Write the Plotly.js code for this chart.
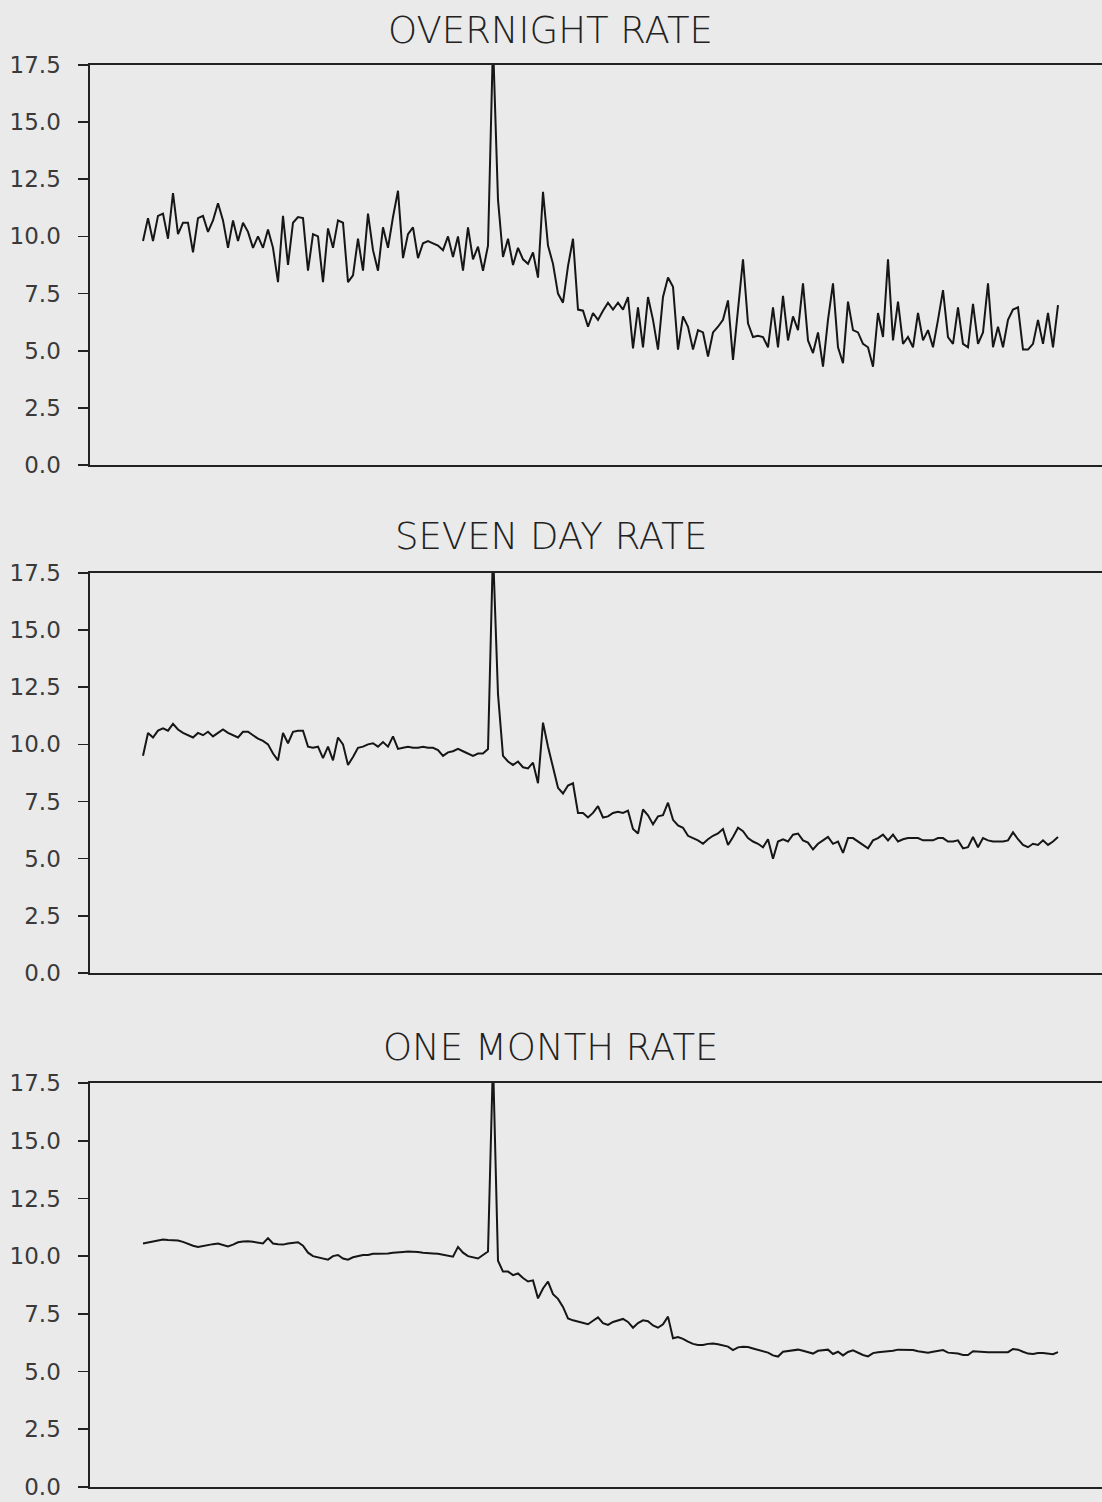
<!DOCTYPE html>
<html><head><meta charset="utf-8">
<script src="https://cdn.plot.ly/plotly-3.0.1.min.js"></script>
<style>html,body{margin:0;padding:0;background:#eaeaea;} #chart{width:1102px;height:1502px;}</style>
</head><body><div id="chart"></div>
<script>
const panelTitles = ['OVERNIGHT RATE', 'SEVEN DAY RATE', 'ONE MONTH RATE'];
const yTickValues = [0, 2.5, 5, 7.5, 10, 12.5, 15, 17.5];
const yTickLabels = ['0.0', '2.5', '5.0', '7.5', '10.0', '12.5', '15.0', '17.5'];

const overnight = [
  9.8, 10.8, 9.8, 10.9, 11.0, 9.9, 11.9, 10.1, 10.6, 10.6,
  9.3, 10.8, 10.9, 10.2, 10.7, 11.45, 10.7, 9.5, 10.7, 9.8,
  10.6, 10.2, 9.5, 10.0, 9.5, 10.3, 9.5, 8.0, 10.9, 8.75,
  10.6, 10.85, 10.8, 8.5, 10.1, 10.0, 8.0, 10.35, 9.5, 10.7,
  10.6, 8.0, 8.3, 9.9, 8.5, 11.0, 9.4, 8.5, 10.4, 9.5,
  10.85, 12.0, 9.05, 10.1, 10.4, 9.05, 9.7, 9.8, 9.7, 9.6,
  9.4, 10.0, 9.1, 10.0, 8.5, 10.4, 9.0, 9.55, 8.5, 9.6,
  18.5, 11.6, 9.1, 9.9, 8.75, 9.5, 9.0, 8.8, 9.3, 8.2,
  11.95, 9.6, 8.8, 7.5, 7.1, 8.7, 9.9, 6.8, 6.75, 6.05,
  6.65, 6.35, 6.75, 7.1, 6.8, 7.1, 6.8, 7.35, 5.1, 6.9,
  5.15, 7.35, 6.35, 5.05, 7.35, 8.2, 7.8, 5.05, 6.5, 6.05,
  5.05, 5.9, 5.8, 4.75, 5.8, 6.05, 6.35, 7.2, 4.6, 6.65,
  9.0, 6.2, 5.6, 5.65, 5.6, 5.15, 6.9, 5.15, 7.4, 5.45,
  6.5, 5.9, 7.95, 5.45, 4.9, 5.8, 4.3, 6.35, 7.95, 5.15,
  4.45, 7.15, 5.9, 5.8, 5.3, 5.15, 4.3, 6.65, 5.6, 9.0,
  5.45, 7.15, 5.3, 5.6, 5.15, 6.65, 5.45, 5.9, 5.15, 6.35,
  7.65, 5.6, 5.3, 6.9, 5.3, 5.15, 7.05, 5.3, 5.8, 7.95,
  5.15, 6.05, 5.15, 6.35, 6.8, 6.9, 5.05, 5.05, 5.3, 6.35,
  5.3, 6.65, 5.15, 7.0
];

const sevenDay = [
  9.5, 10.5, 10.3, 10.6, 10.7, 10.6, 10.9, 10.65, 10.5, 10.4,
  10.3, 10.5, 10.4, 10.55, 10.35, 10.5, 10.65, 10.5, 10.4, 10.3,
  10.55, 10.55, 10.4, 10.25, 10.15, 10.0, 9.6, 9.3, 10.5, 10.05,
  10.55, 10.6, 10.6, 9.9, 9.85, 9.9, 9.4, 9.9, 9.3, 10.3,
  10.0, 9.1, 9.45, 9.85, 9.9, 10.0, 10.05, 9.9, 10.1, 9.9,
  10.35, 9.8, 9.85, 9.9, 9.85, 9.85, 9.9, 9.85, 9.85, 9.75,
  9.5, 9.65, 9.7, 9.8, 9.7, 9.6, 9.5, 9.6, 9.6, 9.8,
  18.5, 12.2, 9.5, 9.25, 9.1, 9.25, 9.0, 8.95, 9.2, 8.3,
  10.95, 9.9, 9.0, 8.1, 7.85, 8.2, 8.3, 7.0, 7.0, 6.8,
  7.0, 7.3, 6.8, 6.85, 7.0, 7.05, 7.0, 7.1, 6.3, 6.1,
  7.15, 6.9, 6.5, 6.85, 6.9, 7.45, 6.7, 6.45, 6.35, 6.0,
  5.9, 5.8, 5.65, 5.85, 6.0, 6.1, 6.3, 5.6, 5.95, 6.35,
  6.2, 5.9, 5.75, 5.65, 5.5, 5.85, 5.0, 5.75, 5.85, 5.75,
  6.05, 6.1, 5.8, 5.7, 5.4, 5.65, 5.8, 5.95, 5.65, 5.75,
  5.25, 5.9, 5.9, 5.75, 5.6, 5.45, 5.8, 5.9, 6.05, 5.8,
  6.05, 5.75, 5.85, 5.9, 5.9, 5.9, 5.8, 5.8, 5.8, 5.9,
  5.9, 5.75, 5.75, 5.8, 5.45, 5.5, 5.95, 5.5, 5.9, 5.8,
  5.75, 5.75, 5.75, 5.8, 6.15, 5.85, 5.6, 5.5, 5.65, 5.6,
  5.8, 5.6, 5.75, 5.95
];

const oneMonth = [
  10.55, 10.6, 10.65, 10.7, 10.72, 10.7, 10.7, 10.68, 10.62, 10.52,
  10.45, 10.4, 10.45, 10.48, 10.52, 10.55, 10.48, 10.42, 10.5, 10.6,
  10.63, 10.65, 10.62, 10.6, 10.55, 10.78, 10.55, 10.52, 10.5, 10.55,
  10.57, 10.6, 10.45, 10.15, 10.0, 9.95, 9.9, 9.85, 10.0, 10.05,
  9.9, 9.85, 9.95, 10.0, 10.05, 10.05, 10.1, 10.1, 10.1, 10.12,
  10.15, 10.15, 10.18, 10.2, 10.2, 10.18, 10.15, 10.15, 10.12, 10.1,
  10.05, 10.0, 9.98, 10.4, 10.15, 10.0, 9.95, 9.9, 10.05, 10.2,
  18.5, 9.8, 9.33, 9.33, 9.18, 9.25, 9.05, 8.9, 8.95, 8.17,
  8.6, 8.9, 8.35, 8.15, 7.8, 7.3, 7.22, 7.17, 7.12, 7.05,
  7.2, 7.35, 7.1, 7.02, 7.15, 7.2, 7.28, 7.15, 6.9, 7.1,
  7.22, 7.18, 7.0, 6.9, 7.05, 7.38, 6.44, 6.5, 6.42, 6.3,
  6.2, 6.15, 6.15, 6.2, 6.22, 6.18, 6.14, 6.08, 5.93, 6.05,
  6.08, 6.06, 6.0, 5.93, 5.86, 5.82, 5.7, 5.65, 5.86, 5.9,
  5.92, 5.95, 5.9, 5.84, 5.78, 5.9, 5.93, 5.95, 5.76, 5.86,
  5.7, 5.85, 5.92, 5.82, 5.72, 5.66, 5.8, 5.84, 5.86, 5.86,
  5.9, 5.95, 5.95, 5.94, 5.93, 5.88, 5.86, 5.82, 5.86, 5.9,
  5.93, 5.82, 5.8, 5.78, 5.72, 5.72, 5.88, 5.86, 5.84, 5.84,
  5.84, 5.84, 5.84, 5.84, 5.98, 5.95, 5.86, 5.78, 5.76, 5.8,
  5.8, 5.76, 5.75, 5.84
];

const period = overnight.map((_, i) => i);

const ink = '#222222';
const lineStyle = {color: '#161616', width: 2};
const series = [overnight, sevenDay, oneMonth];
const axisSuffix = ['', '2', '3'];

const traces = series.map((vals, k) => ({
  type: 'scatter', mode: 'lines', x: period, y: vals,
  xaxis: 'x' + axisSuffix[k], yaxis: 'y' + axisSuffix[k],
  line: lineStyle, hoverinfo: 'skip', showlegend: false
}));

function yAxis(domain, anchor) {
  return {
    domain: domain, anchor: anchor, range: [0, 17.5],
    tickmode: 'array', tickvals: yTickValues, ticktext: yTickLabels,
    ticks: 'outside', ticklen: 10, tickwidth: 1.6, tickcolor: ink,
    showline: true, linecolor: ink, linewidth: 1.6,
    showgrid: false, zeroline: false, ticklabelstandoff: 13,
    tickfont: {family: 'DejaVu Sans', size: 23, color: '#3a3a3a'},
    fixedrange: true
  };
}
function xAxis(anchor) {
  return {
    anchor: anchor, range: [-10.6, 191.8],
    showline: true, mirror: true, linecolor: ink, linewidth: 1.8,
    showticklabels: false, ticks: '', showgrid: false, zeroline: false,
    fixedrange: true
  };
}

const titleY = [1.0246, 0.6681, 0.3094];
const annotations = panelTitles.map((t, k) => ({
  text: t, xref: 'paper', yref: 'paper', x: 0.4555, y: titleY[k],
  xanchor: 'center', yanchor: 'middle', showarrow: false,
  font: {family: 'DejaVu Sans', size: 37, color: '#222222', weight: 200}
}));

const layout = {
  width: 1102, height: 1502,
  margin: {l: 90, r: 0, t: 65, b: 15},
  paper_bgcolor: '#eaeaea', plot_bgcolor: '#eaeaea',
  showlegend: false,
  xaxis: xAxis('y'), yaxis: yAxis([0.7187, 1], 'x'),
  xaxis2: xAxis('y2'), yaxis2: yAxis([0.3615, 0.6428], 'x2'),
  xaxis3: xAxis('y3'), yaxis3: yAxis([0, 0.2841], 'x3'),
  annotations: annotations
};

Plotly.newPlot('chart', traces, layout, {staticPlot: true, displayModeBar: false});
</script>
</body></html>
